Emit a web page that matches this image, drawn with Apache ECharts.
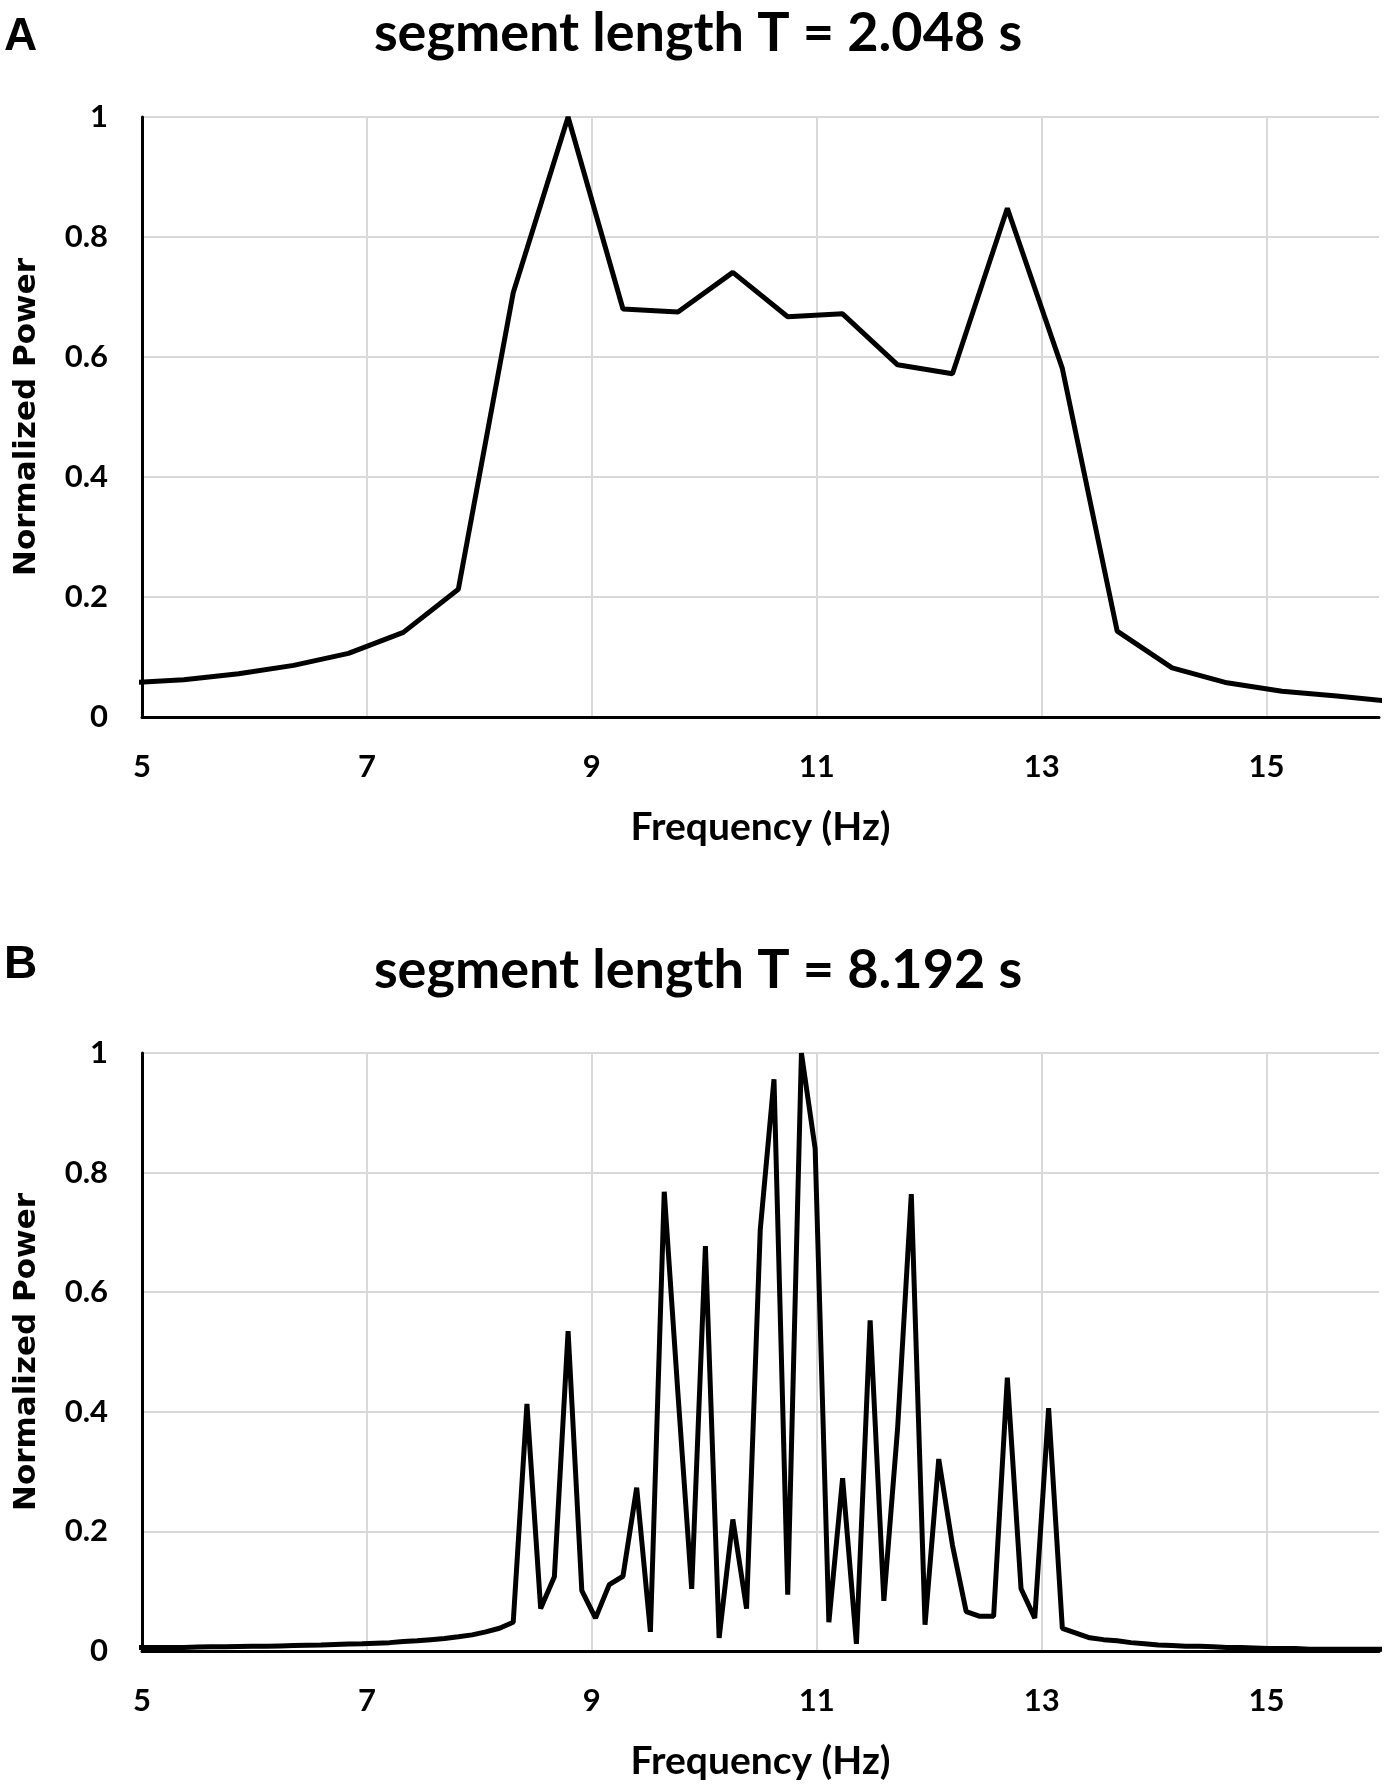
<!DOCTYPE html>
<html>
<head>
<meta charset="utf-8">
<title>Normalized power spectra</title>
<script src="https://cdn.jsdelivr.net/npm/echarts@6/dist/echarts.min.js"></script>
<style>
  html, body { margin: 0; padding: 0; background: #fff; }
  #chart { width: 1386px; height: 1791px; }
</style>
</head>
<body>
<div id="chart"></div>
<script>
// panel A: segment length 2.048 s, bin spacing 0.488 Hz
let freqA = [4.883, 5.371, 5.859, 6.348, 6.836, 7.324, 7.813, 8.301, 8.789, 9.277,
    9.766, 10.254, 10.742, 11.230, 11.719, 12.207, 12.695, 13.184, 13.672, 14.160,
    14.648, 15.137, 15.625, 16.113];
let powerA = [0.057, 0.062, 0.072, 0.086, 0.106, 0.141, 0.213, 0.707, 1.0, 0.680,
    0.675, 0.741, 0.667, 0.672, 0.587, 0.572, 0.848, 0.581, 0.143, 0.082,
    0.057, 0.043, 0.035, 0.026];

// panel B: segment length 8.192 s, bin spacing 0.122 Hz
let freqB = [4.883, 5.005, 5.127, 5.249, 5.371, 5.493, 5.615, 5.737, 5.859, 5.981,
    6.104, 6.226, 6.348, 6.470, 6.592, 6.714, 6.836, 6.958, 7.080, 7.202,
    7.324, 7.446, 7.568, 7.690, 7.813, 7.935, 8.057, 8.179, 8.301, 8.423,
    8.545, 8.667, 8.789, 8.911, 9.033, 9.155, 9.277, 9.399, 9.521, 9.644,
    9.766, 9.888, 10.010, 10.132, 10.254, 10.376, 10.498, 10.620, 10.742, 10.864,
    10.986, 11.108, 11.230, 11.353, 11.475, 11.597, 11.719, 11.841, 11.963, 12.085,
    12.207, 12.329, 12.451, 12.573, 12.695, 12.817, 12.939, 13.062, 13.184, 13.306,
    13.428, 13.550, 13.672, 13.794, 13.916, 14.038, 14.160, 14.282, 14.404, 14.526,
    14.648, 14.771, 14.893, 15.015, 15.137, 15.259, 15.381, 15.503, 15.625, 15.747,
    15.869, 15.991, 16.113];
let powerB = [0.006, 0.006, 0.006, 0.006, 0.006, 0.0065, 0.007, 0.007, 0.0075, 0.008,
    0.008, 0.0085, 0.009, 0.0095, 0.010, 0.011, 0.0115, 0.012, 0.013, 0.014,
    0.016, 0.017, 0.019, 0.021, 0.024, 0.027, 0.032, 0.038, 0.048, 0.413,
    0.071, 0.124, 0.535, 0.101, 0.055, 0.111, 0.125, 0.273, 0.032, 0.768,
    0.430, 0.104, 0.677, 0.022, 0.220, 0.071, 0.705, 0.956, 0.094, 1.0,
    0.840, 0.048, 0.289, 0.012, 0.553, 0.084, 0.372, 0.764, 0.044, 0.321,
    0.177, 0.066, 0.058, 0.058, 0.457, 0.104, 0.055, 0.406, 0.038, 0.030,
    0.022, 0.019, 0.017, 0.014, 0.012, 0.010, 0.009, 0.008, 0.008, 0.007,
    0.006, 0.006, 0.005, 0.004, 0.004, 0.004, 0.003, 0.003, 0.003, 0.003,
    0.003, 0.003, 0.003];

let panelTitles = ['segment length T = 2.048 s', 'segment length T = 8.192 s'];
let panelLetters = ['A', 'B'];
let xName = 'Frequency (Hz)';
let yName = 'Normalized Power';

const numFont = 'Lato, "Open Sans", sans-serif';
const gridTops = [117, 1053];
const letterTops = [14, 942];

function pairs(xs, ys) {
    let out = [];
    for (let i = 0; i < xs.length; i++) {
        out.push([xs[i], ys[i]]);
    }
    return out;
}

function xAxisFor(idx) {
    return {
        type: 'value',
        gridIndex: idx,
        min: 5,
        max: 16,
        interval: 2,
        name: xName,
        nameLocation: 'middle',
        nameGap: 91,
        nameTextStyle: {color: '#000', fontFamily: numFont, fontWeight: 'bold', fontSize: 39},
        axisLine: {show: true, onZero: false, lineStyle: {color: '#000', width: 3}},
        axisTick: {show: false},
        axisLabel: {
            color: '#000', fontFamily: numFont, fontWeight: 'bold', fontSize: 31,
            margin: 34, showMaxLabel: false
        },
        splitLine: {show: true, showMinLine: false, showMaxLine: false, lineStyle: {color: '#d9d9d9', width: 2}}
    };
}

function yAxisFor(idx) {
    return {
        type: 'value',
        gridIndex: idx,
        min: 0,
        max: 1,
        interval: 0.2,
        name: yName,
        nameLocation: 'middle',
        nameRotate: 90,
        nameGap: 100,
        nameTextStyle: {color: '#000', fontFamily: '"DejaVu Sans", Verdana, sans-serif', fontWeight: 'bold', fontSize: 31},
        axisLine: {show: true, lineStyle: {color: '#000', width: 3}},
        axisTick: {show: false},
        axisLabel: {
            color: '#000', fontFamily: numFont, fontWeight: 'bold', fontSize: 31,
            margin: 34,
            formatter: function (v) { return String(Math.round(v * 10) / 10); }
        },
        splitLine: {show: true, showMinLine: false, lineStyle: {color: '#d9d9d9', width: 2}}
    };
}

let myChart = echarts.init(document.getElementById('chart'), null, {renderer: 'canvas'});

let graphics = [];
for (let i = 0; i < 2; i++) {
    graphics.push({
        type: 'text', left: 4, top: letterTops[i],
        style: {text: panelLetters[i], fill: '#000', font: 'bold 46px "Liberation Sans", Arial, sans-serif'}
    });
}

myChart.setOption({
    backgroundColor: '#fff',
    animation: false,
    title: [
        {
            text: panelTitles[0], left: 693, top: 2, textAlign: 'center',
            textStyle: {color: '#000', fontFamily: numFont, fontWeight: 'bold', fontSize: 54}
        },
        {
            text: panelTitles[1], left: 693, top: 939, textAlign: 'center',
            textStyle: {color: '#000', fontFamily: numFont, fontWeight: 'bold', fontSize: 54}
        }
    ],
    graphic: graphics,
    grid: [
        {left: 142, top: gridTops[0], width: 1237, height: 600},
        {left: 142, top: gridTops[1], width: 1237, height: 598}
    ],
    xAxis: [xAxisFor(0), xAxisFor(1)],
    yAxis: [yAxisFor(0), yAxisFor(1)],
    series: [
        {
            name: panelTitles[0], type: 'line', xAxisIndex: 0, yAxisIndex: 0,
            data: pairs(freqA, powerA), showSymbol: false, clip: true,
            lineStyle: {color: '#000', width: 5}
        },
        {
            name: panelTitles[1], type: 'line', xAxisIndex: 1, yAxisIndex: 1,
            data: pairs(freqB, powerB), showSymbol: false, clip: true,
            lineStyle: {color: '#000', width: 5}
        }
    ]
});

window.onresize = function () {
    myChart.resize();
};
</script>
</body>
</html>
